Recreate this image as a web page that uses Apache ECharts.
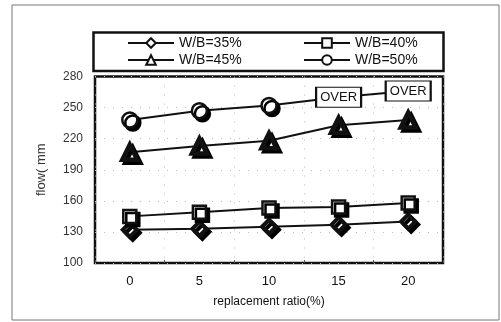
<!DOCTYPE html>
<html>
<head>
<meta charset="utf-8">
<script src="https://cdn.jsdelivr.net/npm/echarts@6/dist/echarts.min.js"></script>
<style>
  html, body { margin: 0; padding: 0; background: #fff; }
  #chart { width: 501px; height: 322px; }
</style>
</head>
<body>
<div id="chart"></div>
<script>
// Flow (mm) against replacement ratio for four water/binder ratios
const categories = ['0', '5', '10', '15', '20'];
const wb35 = [132, 133, 135, 137, 140];
const wb40 = [145, 149, 153, 154, 158];
const wb45 = [207, 213, 218, 233, 238];
const wb50 = [238, 247, 252, 260, 266];
// points beyond the measurable range are drawn as boxed "OVER" tags
const wb50Tags = [null, null, null, 'OVER', 'OVER'];
const yTicks = { min: 100, max: 280, step: 30 };

const FONT = 'Liberation Sans, Arial, sans-serif';
const INK = '#111';

// white markers with a heavy outline and a hard drop shadow to the lower right
const markerStyle = (extra) => Object.assign({
  color: '#fff',
  borderColor: INK,
  borderWidth: 2.5,
  shadowColor: '#000',
  shadowBlur: 0.01,
  shadowOffsetX: 3,
  shadowOffsetY: 3
}, extra || {});

function lineSeries(name, values, symbol, size, extra) {
  return Object.assign({
    name: name,
    type: 'line',
    data: values,
    symbol: symbol,
    symbolSize: size,
    lineStyle: { color: INK, width: 2 },
    itemStyle: markerStyle(),
    emphasis: { disabled: true },
    z: 3
  }, extra || {});
}

const wb50Data = wb50.map((v, i) => wb50Tags[i] ? {
  value: v,
  symbol: 'rect',
  symbolSize: [45, 20],
  itemStyle: { color: '#fff', borderColor: INK, borderWidth: 1.5, shadowColor: 'rgba(0,0,0,0)', shadowOffsetX: 0, shadowOffsetY: 0, shadowBlur: 0 },
  label: {
    show: true,
    position: 'inside',
    formatter: wb50Tags[i],
    color: INK,
    fontFamily: FONT,
    fontSize: 13
  }
} : v);

const chart = echarts.init(document.getElementById('chart'), null, { renderer: 'canvas' });

chart.setOption({
  animation: false,
  backgroundColor: '#fff',
  textStyle: { fontFamily: FONT, color: INK },
  graphic: [
    { type: 'rect', shape: { x: 12, y: 5, width: 487, height: 315 },
      style: { fill: 'none', stroke: '#777', lineWidth: 1 }, z: 0 },
    { type: 'rect', shape: { x: 93.5, y: 32.5, width: 350, height: 38.5 },
      style: { fill: 'none', stroke: INK, lineWidth: 2.5 }, z: 1 }
  ],
  legend: [
    {
      data: ['W/B=35%', 'W/B=45%'],
      orient: 'vertical', left: 127, top: 36,
      itemWidth: 46, itemHeight: 12, itemGap: 3,
      textStyle: { fontFamily: FONT, fontSize: 14, color: INK },
      padding: 0
    },
    {
      data: ['W/B=40%', 'W/B=50%'],
      orient: 'vertical', left: 303, top: 36,
      itemWidth: 46, itemHeight: 12, itemGap: 3,
      textStyle: { fontFamily: FONT, fontSize: 14, color: INK },
      padding: 0
    }
  ],
  grid: {
    left: 95, right: 58, top: 76.5, bottom: 59,
    show: true, borderColor: INK, borderWidth: 2.5, backgroundColor: 'transparent'
  },
  xAxis: {
    type: 'category',
    data: categories,
    boundaryGap: true,
    name: 'replacement ratio(%)',
    nameLocation: 'middle',
    nameGap: 33,
    nameTextStyle: { fontFamily: FONT, fontSize: 12, color: INK },
    axisLine: { show: false },
    axisTick: { show: true, inside: true, length: 3, lineStyle: { color: '#555' } },
    axisLabel: { fontFamily: FONT, fontSize: 13, color: INK, margin: 12 },
    splitLine: { show: true, lineStyle: { color: '#bbb', type: [1, 8], width: 1 } }
  },
  yAxis: {
    type: 'value',
    min: yTicks.min, max: yTicks.max, interval: yTicks.step,
    name: 'flow( mm',
    nameLocation: 'middle',
    nameGap: 47,
    nameRotate: 90,
    nameTextStyle: { fontFamily: FONT, fontSize: 13, color: '#333' },
    axisLine: { show: false },
    axisTick: { show: false },
    axisLabel: { fontFamily: FONT, fontSize: 12, color: '#333', margin: 12 },
    splitLine: { show: true, lineStyle: { color: '#bbb', type: [1, 8], width: 1 } }
  },
  series: [
    lineSeries('W/B=35%', wb35, 'diamond', 14, { itemStyle: markerStyle({ borderWidth: 4 }) }),
    lineSeries('W/B=40%', wb40, 'rect', 13),
    lineSeries('W/B=45%', wb45, 'triangle', 15, { itemStyle: markerStyle({ borderWidth: 4.5 }) }),
    lineSeries('W/B=50%', wb50Data, 'circle', 15)
  ]
});
</script>
</body>
</html>
